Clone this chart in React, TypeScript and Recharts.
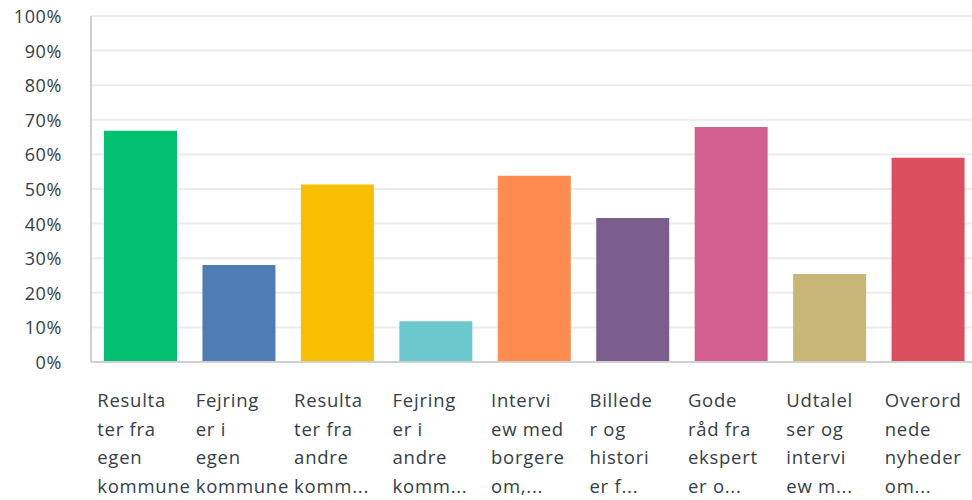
import { BarChart, Bar, XAxis, YAxis, CartesianGrid, Cell } from 'recharts';

const categories = [
  'Resultater fra egen kommune',
  'Fejringer i egen kommune',
  'Resultater fra andre kommuner',
  'Fejringer i andre kommuner',
  'Interview med borgere om',
  'Billeder og historier fra',
  'Gode råd fra eksperter om',
  'Udtalelser og interview med',
  'Overordnede nyheder om',
];

// wrapped + truncated tick text, as shown under each bar
const tickLines = [
  ['Resulta', 'ter fra', 'egen', 'kommune'],
  ['Fejring', 'er i', 'egen', 'kommune'],
  ['Resulta', 'ter fra', 'andre', 'komm...'],
  ['Fejring', 'er i', 'andre', 'komm...'],
  ['Intervi', 'ew med', 'borgere', 'om,...'],
  ['Billede', 'r og', 'histori', 'er f...'],
  ['Gode', 'råd fra', 'ekspert', 'er o...'],
  ['Udtalel', 'ser og', 'intervi', 'ew m...'],
  ['Overord', 'nede', 'nyheder', 'om...'],
];

const shares = [66.8, 28.0, 51.3, 11.8, 53.8, 41.6, 67.9, 25.4, 59.0];

const colors = [
  '#00BF6F',
  '#507CB6',
  '#F9BE00',
  '#6BC8CD',
  '#FF8B4F',
  '#7C5E8E',
  '#D35F8F',
  '#C8B677',
  '#DB4E5C',
];

const yTicks = [0, 10, 20, 30, 40, 50, 60, 70, 80, 90, 100];

const FONT = '"Open Sans", sans-serif';
const TEXT = '#333E48';

const data = categories.map((name, i) => ({ name, idx: i, value: shares[i] }));

function XTick(props: any) {
  const { x, y, index } = props;
  const lines = tickLines[index] || [];
  return (
    <text
      x={x - 43}
      y={y}
      textAnchor="start"
      fill={TEXT}
      fontFamily={FONT}
      fontSize={18.5}
      letterSpacing={0.75}
    >
      {lines.map((l, i) => (
        <tspan key={i} x={x - 43} y={y + 37 + i * 28.5}>
          {l}
        </tspan>
      ))}
    </text>
  );
}

function YTick(props: any) {
  const { x, y, payload } = props;
  return (
    <text
      x={x}
      y={y}
      textAnchor="end"
      dominantBaseline="central"
      fill={TEXT}
      fontFamily={FONT}
      fontSize={18}
      letterSpacing={0.6}
    >
      {payload.value}%
    </text>
  );
}

export default function App() {
  return (
    <div
      style={{
        position: 'absolute',
        left: 0,
        top: 0,
        width: 972,
        height: 500,
        overflow: 'hidden',
        background: '#fff',
      }}
    >
      <BarChart
        width={977}
        height={500}
        data={data}
        margin={{ top: 16, right: 0, bottom: 0, left: 0 }}
      >
        <CartesianGrid stroke="#EBEBEB" strokeWidth={2} vertical={false} />
        <XAxis
          dataKey="name"
          height={138}
          interval={0}
          tickLine={false}
          axisLine={{ stroke: '#D0D0D0', strokeWidth: 2 }}
          tick={<XTick />}
        />
        <YAxis
          domain={[0, 100]}
          ticks={yTicks}
          width={91}
          tickLine={false}
          tickSize={0}
          tickMargin={29}
          axisLine={{ stroke: '#D0D0D0', strokeWidth: 2 }}
          tick={<YTick />}
        />
        <Bar dataKey="value" barSize={73} isAnimationActive={false}>
          {data.map((d) => (
            <Cell key={d.idx} fill={colors[d.idx]} />
          ))}
        </Bar>
      </BarChart>
    </div>
  );
}
